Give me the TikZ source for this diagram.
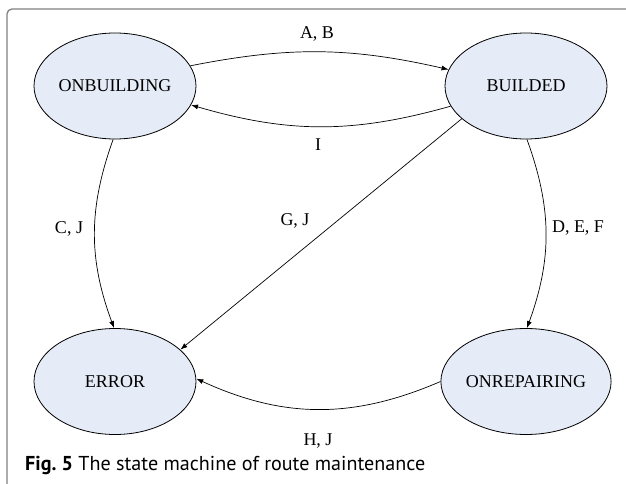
\documentclass[tikz,border=0pt]{standalone}
\usepackage{fontspec}
\setmainfont{Liberation Serif}
\newfontfamily\capfont{PT Sans}
\usetikzlibrary{shapes.geometric,arrows.meta}

\definecolor{statefill}{HTML}{E6ECF7}
\definecolor{framegray}{HTML}{808080}

\tikzset{
  state/.style={ellipse, draw=black, line width=0.8pt, fill=statefill,
    minimum width=162pt, minimum height=106pt, inner sep=0pt,
    font=\fontsize{18}{20}\selectfont},
  trans/.style={draw=black, line width=0.7pt,
    -{Latex[length=7pt,width=5pt]}},
  lbl/.style={font=\fontsize{18}{20}\selectfont, inner sep=0pt},
}

\begin{document}
\begin{tikzpicture}[x=1pt,y=1pt]
  \useasboundingbox (0,0) rectangle (626,483);

  % outer frame (only the top and left edges fall inside the page)
  \draw[framegray, line width=1.3pt, rounded corners=5pt]
    (7,-20) -- (7,474) -- (650,474);

  % states
  \node[state] (onb) at (115,397) {ONBUILDING};
  \node[state] (bld) at (526,397) {BUILDED};
  \node[state] (err) at (115,101.5) {ERROR};
  \node[state] (rep) at (526,101.5) {ONREPAIRING};

  % transitions
  \draw[trans] (onb.15) to[bend left=12] (bld.168);
  \draw[trans] (bld.-165) to[bend left=16] (onb.-14);
  \draw[trans] (onb.-92) to[bend right=20] (err.91);
  \draw[trans] (bld.-89) to[bend left=20] (rep.89);
  \draw[trans] (bld.-153) -- (err.26);
  \draw[trans] (rep.180) to[bend left=24] (err.2);

  % transition labels
  \node[lbl] (lab) at (317,449) {A, B};
  \node[lbl] (li) at (318,338) {I};
  \node[lbl] (lcj) at (69,254) {C, J};
  \node[lbl] (lgj) at (295,262) {G, J};
  \node[lbl] (ldef) at (578,255) {D, E, F};
  \node[lbl] (lhj) at (318,42) {H, J};

  % caption, set to a width of 400pt
  \node[anchor=base west, inner sep=0pt, font=\capfont\fontsize{18}{22}\selectfont]
    (cap) at (25,13)
    {\resizebox{400pt}{!}{\textbf{Fig.\ 5} The state machine of route maintenance}};
\end{tikzpicture}
\end{document}
